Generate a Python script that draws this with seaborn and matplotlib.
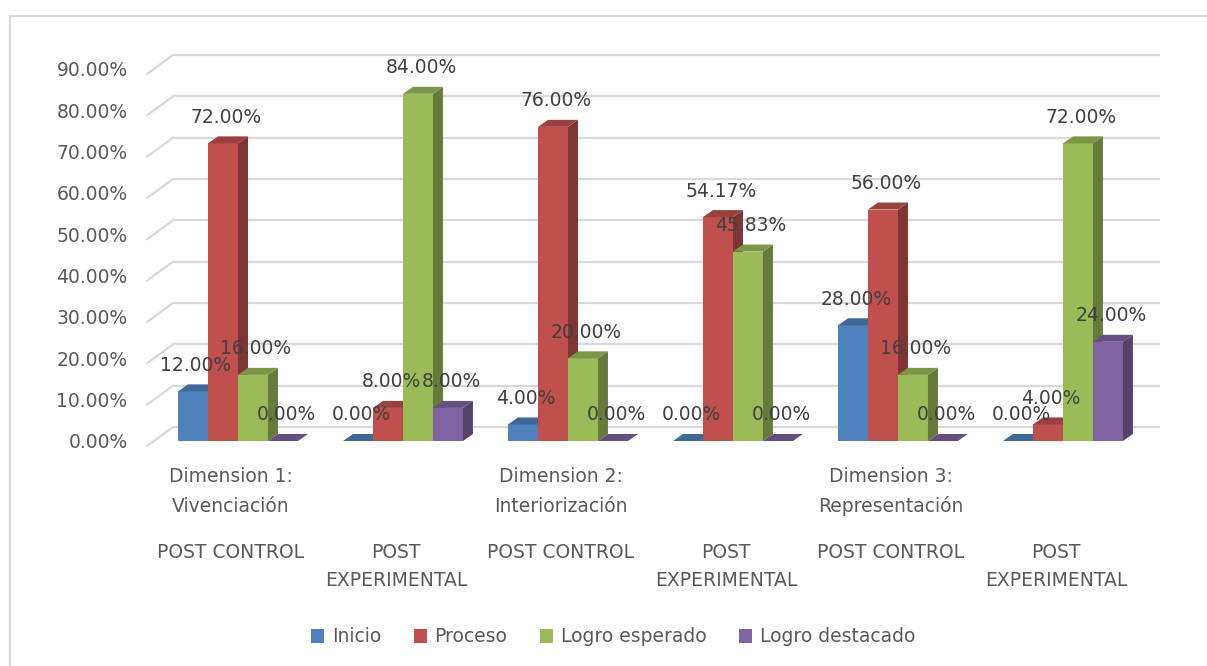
import numpy as np
import pandas as pd
import matplotlib
matplotlib.use("Agg")
import matplotlib.pyplot as plt
import seaborn as sns
from matplotlib.patches import Polygon, Patch, Rectangle
from matplotlib.colors import to_rgb

# ---------------- data ----------------
dimensions = ["Dimension 1:\nVivenciación", "Dimension 2:\nInteriorización", "Dimension 3:\nRepresentación"]
conditions = ["POST CONTROL", "POST\nEXPERIMENTAL"]
series = ["Inicio", "Proceso", "Logro esperado", "Logro destacado"]
inicio = [12.00, 0.00, 4.00, 0.00, 28.00, 0.00]
proceso = [72.00, 8.00, 76.00, 54.17, 56.00, 4.00]
logro_esperado = [16.00, 84.00, 20.00, 45.83, 16.00, 72.00]
logro_destacado = [0.00, 8.00, 0.00, 0.00, 0.00, 24.00]
yticks = [0, 10, 20, 30, 40, 50, 60, 70, 80, 90]
colors = ["#4F81BD", "#C0504D", "#9BBB59", "#8064A2"]

categories = [f"{d}|{c}" for d in dimensions for c in conditions]
values = [inicio, proceso, logro_esperado, logro_destacado]
rows = []
for s, vals in zip(series, values):
    for cat, v in zip(categories, vals):
        rows.append({"cat": cat, "serie": s, "value": v / 100.0})
df = pd.DataFrame(rows)

sns.set_style("white")
plt.rcParams["font.family"] = ["DejaVu Sans"]

W, H = 1207, 666
fig = plt.figure(figsize=(W / 100, H / 100), dpi=100)
fig.patch.set_facecolor("white")

# axes covering the front plane of the bars
ax_left_px, ax_right_px = 154, 1141
ax_bot_px, ax_top_px = 441, 69
ax = fig.add_axes([ax_left_px / W, (H - ax_bot_px) / H,
                   (ax_right_px - ax_left_px) / W, (ax_bot_px - ax_top_px) / H])
ax.set_facecolor("none")

xmin, xmax = -0.509, 5.473
ymin, ymax = 0.0, 0.9
px_x = (xmax - xmin) / (ax_right_px - ax_left_px)
px_y = (ymax - ymin) / (ax_bot_px - ax_top_px)

sns.barplot(data=df, x="cat", y="value", hue="serie", order=categories,
            hue_order=series, palette=colors, width=0.727, saturation=1,
            legend=False, ax=ax, errorbar=None)
ax.set_xlim(xmin, xmax)
ax.set_ylim(ymin, ymax)

# ---------------- back wall grid ----------------
grid_col = "#D9D9D9"
wdx, wdy = 19 * px_x, 14 * px_y
for t in yticks:
    v = t / 100.0
    ax.plot([xmin + wdx, xmax + wdx], [v + wdy, v + wdy], color=grid_col,
            lw=1.6, zorder=0.5, clip_on=False, solid_capstyle="butt")
    ax.plot([xmin - 7 * px_x, xmin + wdx], [v - 5 * px_y, v + wdy],
            color=grid_col, lw=1.6, zorder=0.5, clip_on=False)

# ---------------- 3D bars ----------------
def shade(c, f):
    r, g, b = to_rgb(c)
    return (r * f, g * f, b * f)

bdx, bdy = 10 * px_x, 7 * px_y
bars = sorted(ax.patches, key=lambda p: p.get_x())
for k, p in enumerate(bars):
    x0 = p.get_x()
    w = p.get_width()
    h = p.get_height()
    col = p.get_facecolor()
    p.set_edgecolor("none")
    p.set_linewidth(0)
    z = 2 + 0.1 * k
    p.set_zorder(z)
    x1 = x0 + w
    side = Polygon([(x1, 0), (x1 + bdx, bdy), (x1 + bdx, h + bdy), (x1, h)],
                   closed=True, facecolor=shade(col, 0.66), edgecolor="none",
                   zorder=z + 0.01, clip_on=False)
    top = Polygon([(x0, h), (x0 + bdx, h + bdy), (x1 + bdx, h + bdy), (x1, h)],
                  closed=True, facecolor=shade(col, 0.80), edgecolor="none",
                  zorder=z + 0.02, clip_on=False)
    ax.add_patch(side)
    ax.add_patch(top)
    ax.text(x0 + w / 2 + 3 * px_x, h + 26 * px_y, f"{h * 100:.2f}%",
            ha="center", va="center", fontsize=13.5, color="#404040",
            zorder=20, clip_on=False)

# ---------------- axes styling ----------------
for s in ax.spines.values():
    s.set_visible(False)
ax.set_yticks([t / 100.0 for t in yticks])
ax.set_yticklabels([f"{t:.2f}%" for t in yticks], fontsize=13.5, color="#595959")
ax.tick_params(axis="y", length=0, pad=19)
ax.set_xticks([])
ax.set_xlabel("")
ax.set_ylabel("")
ax.grid(False)

# category labels
for i, cat in enumerate(categories):
    d, c = cat.split("|")
    xc = i - 7 * px_x
    if i % 2 == 0:
        ax.text(xc, -(476 - ax_bot_px) * px_y, d, ha="center", va="center",
                fontsize=13.5, color="#595959", linespacing=1.62,
                clip_on=False) if False else None
        lines = d.split("\n")
        for j, ln in enumerate(lines):
            ax.text(xc, -(477 + 29 * j - ax_bot_px) * px_y, ln, ha="center",
                    va="center", fontsize=13.5, color="#595959", clip_on=False)
    for j, ln in enumerate(c.split("\n")):
        ax.text(xc, -(553 + 28 * j - ax_bot_px) * px_y, ln, ha="center",
                va="center", fontsize=13.5, color="#595959", clip_on=False)

# legend
handles = [Patch(facecolor=c, edgecolor="none", label=s) for s, c in zip(series, colors)]
leg = fig.legend(handles=handles, loc="center", bbox_to_anchor=(0.508, 1 - 637 / H),
                 ncol=4, frameon=False, fontsize=13.5, handlelength=0.7,
                 handleheight=0.7, handletextpad=0.4, columnspacing=1.75)
for t in leg.get_texts():
    t.set_color("#595959")

# chart border
fig.patches.append(Rectangle((10 / W, -0.05), 1.1, (H - 16) / H + 0.05,
                             transform=fig.transFigure, fill=False,
                             edgecolor="#D9D9D9", lw=1.5))

fig.savefig("out.png", dpi=100, facecolor="white")
